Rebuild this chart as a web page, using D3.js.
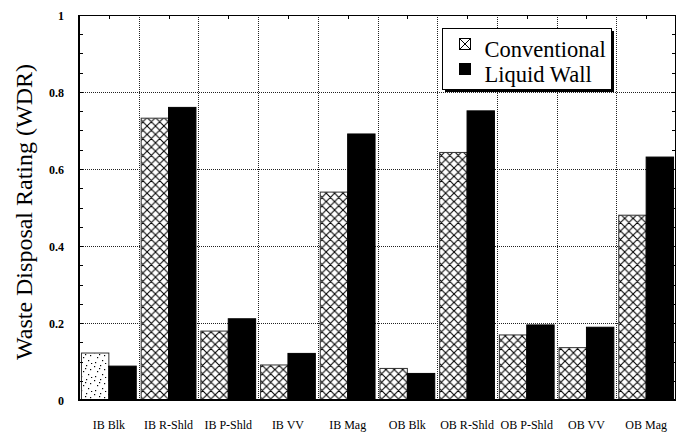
<!DOCTYPE html>
<html>
<head>
<meta charset="utf-8">
<script src="https://cdn.jsdelivr.net/npm/d3@7"></script>
<style>
  html, body { margin: 0; padding: 0; background: #fff; }
  svg { display: block; }
  svg text { font-family: "Liberation Serif", Tinos, "Times New Roman", "DejaVu Serif", serif; fill: #000; }
</style>
</head>
<body>
<svg id="chart" width="678" height="432"></svg>
<script>
const categories = ["IB Blk", "IB R-Shld", "IB P-Shld", "IB VV", "IB Mag",
                    "OB Blk", "OB R-Shld", "OB P-Shld", "OB VV", "OB Mag"];
const conventional = [0.122, 0.732, 0.179, 0.091, 0.540, 0.082, 0.643, 0.169, 0.136, 0.480];
const liquidWall   = [0.088, 0.760, 0.211, 0.121, 0.691, 0.069, 0.751, 0.195, 0.189, 0.631];
const yTicks = [0, 0.2, 0.4, 0.6, 0.8, 1];
const yTickLabels = ["0", "0.2", "0.4", "0.6", "0.8", "1"];
const seriesNames = ["Conventional", "Liquid Wall"];
const yTitle = "Waste Disposal Rating (WDR)";

const FONT = '"Liberation Serif", Tinos, "Times New Roman", "DejaVu Serif", serif';
const svg = d3.select("#chart");
const L = 79, R = 676, T = 15, B = 400;

const x = d3.scaleBand().domain(categories).range([L, R]).paddingInner(0).paddingOuter(0);
const y = d3.scaleLinear().domain([0, 1]).range([B, T]);
const inner = d3.scaleBand().domain(seriesNames).range([0, x.bandwidth()]).paddingInner(0).paddingOuter(0.09);

// patterns
const defs = svg.append("defs");
const P = 8.4;
const hatch = defs.append("pattern").attr("id", "hatch").attr("patternUnits", "userSpaceOnUse")
  .attr("width", P).attr("height", P);
hatch.append("rect").attr("width", P).attr("height", P).attr("fill", "#fff");
hatch.append("path")
  .attr("d", `M0,0L${P},${P}M${P},0L0,${P}M-1,${P-1}L1,${P+1}M${P-1},-1L${P+1},1M-1,1L1,-1M${P-1},${P+1}L${P+1},${P-1}`)
  .attr("stroke", "#000").attr("stroke-width", 1.05).attr("fill", "none");

const dots = defs.append("pattern").attr("id", "dots").attr("patternUnits", "userSpaceOnUse")
  .attr("width", 14).attr("height", 14);
dots.append("rect").attr("width", 14).attr("height", 14).attr("fill", "#fff");
[[1,2],[7,1],[11,5],[4,7],[9,10],[2,12],[12,13],[6,4]].forEach(p => {
  dots.append("rect").attr("x", p[0]).attr("y", p[1]).attr("width", 1.2).attr("height", 1.2).attr("fill", "#000");
});

// gridlines
const grid = svg.append("g");
grid.selectAll("line.h").data(yTicks.filter(d => d > 0 && d < 1)).join("line")
  .attr("x1", L).attr("x2", R).attr("y1", d => Math.round(y(d)) + 0.5).attr("y2", d => Math.round(y(d)) + 0.5)
  .attr("stroke", "#222").attr("stroke-width", 1).attr("stroke-dasharray", "1,1");
grid.selectAll("line.v").data(categories.slice(1)).join("line")
  .attr("x1", d => Math.round(x(d)) + 0.5).attr("x2", d => Math.round(x(d)) + 0.5)
  .attr("y1", T).attr("y2", B)
  .attr("stroke", "#222").attr("stroke-width", 1).attr("stroke-dasharray", "1,1");

// bars
const rows = categories.map((c, i) => ({ c, i, v: [conventional[i], liquidWall[i]] }));
const groups = svg.append("g").selectAll("g").data(rows).join("g")
  .attr("transform", d => `translate(${x(d.c)},0)`);
groups.selectAll("rect").data(d => d.v.map((v, k) => ({ v, k, i: d.i }))).join("rect")
  .attr("x", d => inner(seriesNames[d.k]))
  .attr("width", inner.bandwidth())
  .attr("y", d => y(d.v))
  .attr("height", d => B - y(d.v))
  .attr("fill", d => d.k === 1 ? "#000" : (d.i === 0 ? "url(#dots)" : "url(#hatch)"))
  .attr("stroke", d => d.k === 1 ? "#000" : "#333")
  .attr("stroke-width", 1);

// frame
svg.append("line").attr("x1", L).attr("x2", R).attr("y1", T + 0.5).attr("y2", T + 0.5).attr("stroke", "#000");
svg.append("line").attr("x1", R - 0.5).attr("x2", R - 0.5).attr("y1", T).attr("y2", B).attr("stroke", "#000");
svg.append("line").attr("x1", L).attr("x2", R).attr("y1", B).attr("y2", B).attr("stroke", "#000").attr("stroke-width", 2);
svg.append("line").attr("x1", L).attr("x2", L).attr("y1", T).attr("y2", B + 1).attr("stroke", "#000").attr("stroke-width", 2);

// minor ticks on left & right
const minor = d3.range(0, 1.0001, 0.05);
svg.append("g").selectAll("line").data(minor).join("line")
  .attr("x1", L).attr("x2", L + 4).attr("y1", d => Math.round(y(d)) + 0.5).attr("y2", d => Math.round(y(d)) + 0.5)
  .attr("stroke", "#000");
svg.append("g").selectAll("line").data(minor).join("line")
  .attr("x1", R - 4).attr("x2", R).attr("y1", d => Math.round(y(d)) + 0.5).attr("y2", d => Math.round(y(d)) + 0.5)
  .attr("stroke", "#000");
// ticks on top and bottom at category centers
svg.append("g").selectAll("line").data(categories).join("line")
  .attr("x1", d => Math.round(x(d) + x.bandwidth() / 2) + 0.5).attr("x2", d => Math.round(x(d) + x.bandwidth() / 2) + 0.5)
  .attr("y1", T).attr("y2", T + 4).attr("stroke", "#000");
svg.append("g").selectAll("line").data(categories).join("line")
  .attr("x1", d => Math.round(x(d) + x.bandwidth() / 2) + 0.5).attr("x2", d => Math.round(x(d) + x.bandwidth() / 2) + 0.5)
  .attr("y1", B - 4).attr("y2", B).attr("stroke", "#000");

// y tick labels
svg.append("g").selectAll("text").data(yTicks).join("text")
  .attr("x", 64).attr("y", d => y(d) + 5)
  .attr("text-anchor", "end").attr("font-size", 12).attr("font-weight", "bold")
  .attr("font-family", FONT)
  .text((d, i) => yTickLabels[i]);

// x labels
svg.append("g").selectAll("text").data(categories).join("text")
  .attr("x", d => x(d) + x.bandwidth() / 2).attr("y", 428.5)
  .attr("text-anchor", "middle").attr("font-size", 12)
  .attr("font-family", FONT)
  .text(d => d);

// y title
svg.append("text").attr("transform", "translate(32,212) rotate(-90)")
  .attr("text-anchor", "middle").attr("font-size", 24).attr("font-family", FONT).text(yTitle);

// legend
const lg = svg.append("g");
lg.append("rect").attr("x", 445).attr("y", 31).attr("width", 169).attr("height", 61).attr("fill", "#000");
lg.append("rect").attr("x", 442.5).attr("y", 28.5).attr("width", 169).attr("height", 61)
  .attr("fill", "#fff").attr("stroke", "#000").attr("stroke-width", 1);
const items = lg.selectAll("g").data(seriesNames).join("g")
  .attr("transform", (d, i) => `translate(459.5,${38.5 + i * 25})`);
items.append("rect").attr("width", 11).attr("height", 11)
  .attr("fill", (d, i) => i === 1 ? "#000" : "#fff").attr("stroke", "#000");
items.filter((d, i) => i === 0).append("path").attr("d", "M0,0L11,11M11,0L0,11")
  .attr("stroke", "#000").attr("fill", "none");
items.append("text").attr("x", 25).attr("y", 18.5).attr("font-size", 22.5).attr("font-family", FONT).text(d => d);
</script>
</body>
</html>
